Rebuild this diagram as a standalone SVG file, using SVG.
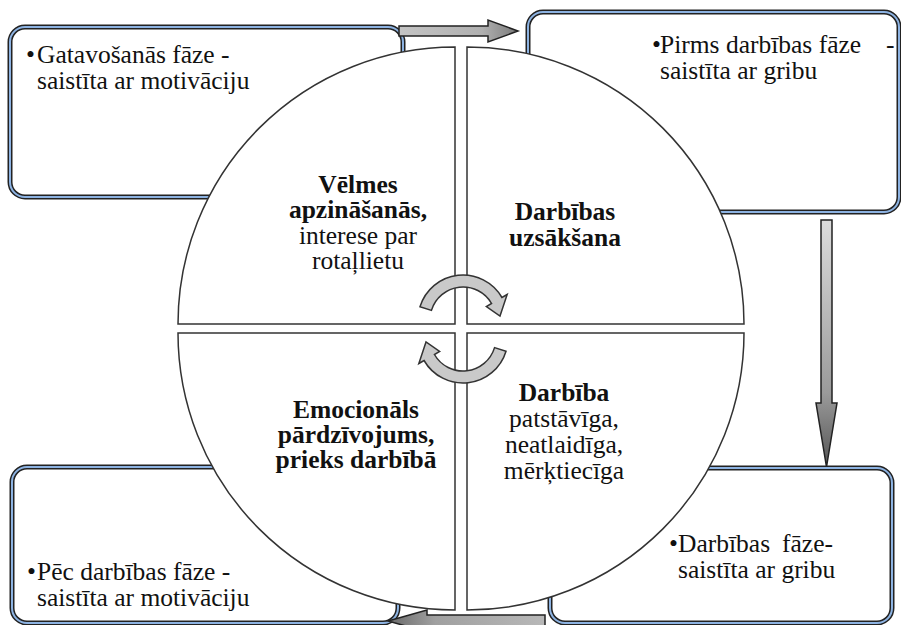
<svg xmlns="http://www.w3.org/2000/svg" width="901" height="625" viewBox="0 0 901 625">
<style>
.bo{fill:#fff;stroke:#222;stroke-width:5}
.bi{fill:none;stroke:#8db3e2;stroke-width:2}
.q{fill:#fff;stroke:#333;stroke-width:1.5}
.t{font-family:"Liberation Serif","Times New Roman",serif;font-size:25.5px;fill:#111}
.b{font-weight:bold}
.m{text-anchor:middle}
.ca{fill:#c9c9c9;stroke:#333;stroke-width:1.5}
.ar{stroke:#222;stroke-width:1.5}
</style>
<defs>
<linearGradient id="gh" x1="0" y1="0" x2="1" y2="0">
<stop offset="0" stop-color="#c4c4c4"/><stop offset="0.7" stop-color="#b0b0b0"/><stop offset="1" stop-color="#7a7a7a"/>
</linearGradient>
<linearGradient id="gv" x1="0" y1="0" x2="0" y2="1">
<stop offset="0" stop-color="#dcdcdc"/><stop offset="0.7" stop-color="#9a9a9a"/><stop offset="1" stop-color="#555"/>
</linearGradient>
<linearGradient id="gl" x1="1" y1="0" x2="0" y2="0">
<stop offset="0" stop-color="#b8b8b8"/><stop offset="0.7" stop-color="#a0a0a0"/><stop offset="1" stop-color="#6a6a6a"/>
</linearGradient>
</defs>

<g id="box-tl">
<rect class="bo" x="10" y="27" width="393" height="170" rx="15"/>
<rect class="bi" x="10" y="27" width="393" height="170" rx="15"/>
<text class="t" x="26" y="63">•</text>
<text class="t" x="37" y="63">Gatavošanās fāze -</text>
<text class="t" x="37" y="89">saistīta ar motivāciju</text>
</g>
<g id="box-tr">
<rect class="bo" x="528" y="12" width="371" height="200" rx="15"/>
<rect class="bi" x="528" y="12" width="371" height="200" rx="15"/>
<text class="t" x="652" y="53">•</text>
<text class="t" y="53"><tspan x="660">Pirms darbības fāze</tspan><tspan x="886">-</tspan></text>
<text class="t" x="660" y="79">saistīta ar gribu</text>
</g>
<g id="box-bl">
<rect class="bo" x="12" y="467" width="386" height="156" rx="15"/>
<rect class="bi" x="12" y="467" width="386" height="156" rx="15"/>
<text class="t" x="27" y="580">•</text>
<text class="t" x="37" y="580">Pēc darbības fāze -</text>
<text class="t" x="37" y="606">saistīta ar motivāciju</text>
</g>
<g id="box-br">
<rect class="bo" x="550" y="468" width="342" height="155" rx="15"/>
<rect class="bi" x="550" y="468" width="342" height="155" rx="15"/>
<text class="t" x="669" y="552">•</text>
<text class="t" y="552"><tspan x="678">Darbības</tspan><tspan x="782">fāze-</tspan></text>
<text class="t" x="678" y="578">saistīta ar gribu</text>
</g>

<g id="quad-tl">
<path class="q" d="M455,324 L178,324 A277,277 0 0 1 455,47 Z"/>
<text class="t m" x="358"><tspan class="b" x="358" y="193">Vēlmes</tspan><tspan class="b" x="358" y="218">apzināšanās,</tspan><tspan x="358" y="244">interese par</tspan><tspan x="358" y="269">rotaļlietu</tspan></text>
</g>
<g id="quad-tr">
<path class="q" d="M467,324 L467,47 A277,277 0 0 1 744,324 Z"/>
<text class="t b m"><tspan x="565" y="220">Darbības</tspan><tspan x="565" y="246">uzsākšana</tspan></text>
</g>
<g id="quad-br">
<path class="q" d="M467,333 L744,333 A277,277 0 0 1 467,610 Z"/>
<text class="t m"><tspan class="b" x="564" y="401">Darbība</tspan><tspan x="564" y="427">patstāvīga,</tspan><tspan x="564" y="453">neatlaidīga,</tspan><tspan x="564" y="479">mērķtiecīga</tspan></text>
</g>
<g id="quad-bl">
<path class="q" d="M455,333 L455,610 A277,277 0 0 1 178,333 Z"/>
<text class="t b m"><tspan x="356" y="418">Emocionāls</tspan><tspan x="356" y="443">pārdzīvojums,</tspan><tspan x="356" y="468">prieks darbībā</tspan></text>
</g>

<g id="connectors">
<path class="ar" fill="url(#gh)" d="M399,26 L488,26 L488,20 L518,31 L488,42 L488,36 L399,36 Z"/>
<path class="ar" fill="url(#gv)" d="M821,220 L832,220 L832,403 L837,403 L826.5,467 L816,403 L821,403 Z"/>
<path class="ar" fill="url(#gl)" d="M545,615 L427,615 L427,610 L388,621 L427,632 L427,627 L545,627 Z"/>
<path class="ca" d="M419.97,306.84 A45,45 0 0 1 501.97,297.5 L507.17,294.5 L500,316 L486.38,306.5 L491.58,303.5 A33,33 0 0 0 431.44,310.35 Z"/>
<path class="ca" transform="rotate(180 463 329)" d="M419.97,306.84 A45,45 0 0 1 501.97,297.5 L507.17,294.5 L500,316 L486.38,306.5 L491.58,303.5 A33,33 0 0 0 431.44,310.35 Z"/>
</g>
</svg>
